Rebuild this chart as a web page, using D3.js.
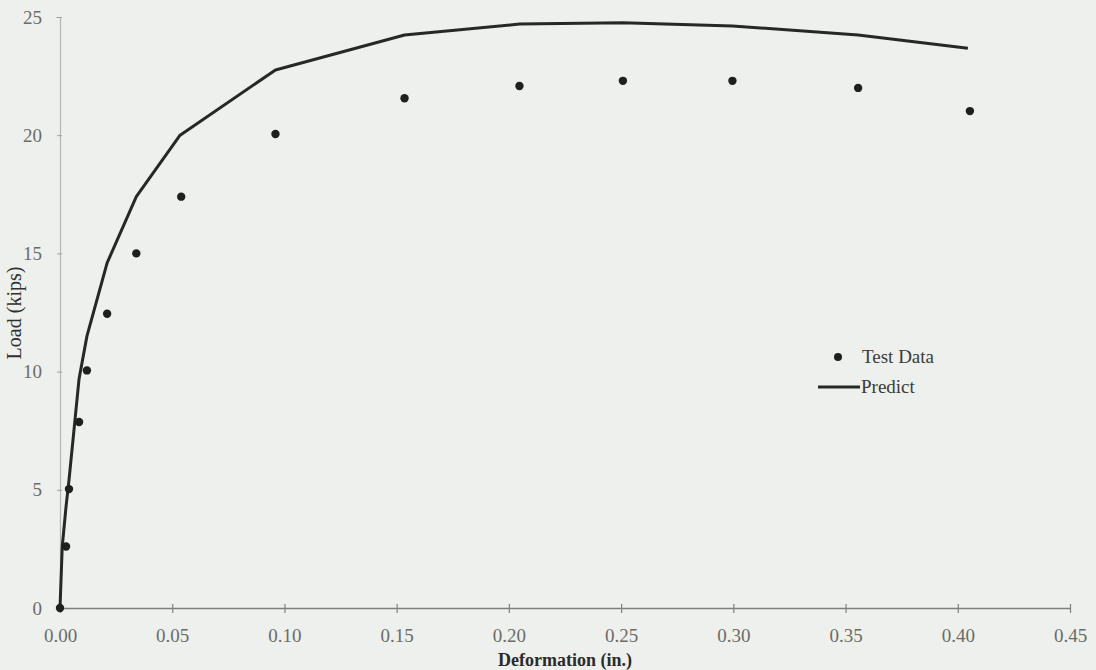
<!DOCTYPE html>
<html>
<head>
<meta charset="utf-8">
<script src="https://cdn.jsdelivr.net/npm/d3@7"></script>
<style>
  html, body { margin: 0; padding: 0; background: #eef0ed; }
  svg { display: block; }
</style>
</head>
<body>
<svg id="chart" width="1096" height="670"></svg>
<script>
// test data
const testDeformation = [0, 0.0027, 0.004, 0.0085, 0.012, 0.021, 0.034, 0.054, 0.096, 0.1535, 0.2047, 0.2508, 0.2996, 0.3556, 0.4054];
const testLoad = [0, 2.6, 5.03, 7.87, 10.05, 12.45, 15.0, 17.4, 20.05, 21.56, 22.08, 22.3, 22.3, 22.0, 21.02];

// predicted curve
const predictDeformation = [0, 0.001, 0.0027, 0.004, 0.0085, 0.012, 0.021, 0.034, 0.0535, 0.096, 0.1535, 0.2047, 0.2508, 0.2996, 0.3556, 0.4045];
const predictLoad = [0, 2.6, 4.3, 5.4, 9.7, 11.5, 14.6, 17.4, 20.0, 22.76, 24.24, 24.7, 24.76, 24.62, 24.24, 23.68];

const xTicks = [0, 0.05, 0.10, 0.15, 0.20, 0.25, 0.30, 0.35, 0.40, 0.45];
const yTicks = [0, 5, 10, 15, 20, 25];

const svg = d3.select('#chart');
const serif = '"Liberation Serif", "DejaVu Serif", serif';

const x = d3.scaleLinear().domain([0, 0.45]).range([60, 1070]);
const y = d3.scaleLinear().domain([0, 25]).range([608, 17]);

// y axis
const yAxis = svg.append('g')
  .attr('transform', `translate(${x(0)},0)`)
  .call(d3.axisLeft(y).tickValues(yTicks).tickSize(4).tickPadding(14));
yAxis.select('.domain').attr('stroke', '#b4b6b3').attr('stroke-width', 1.2);
yAxis.selectAll('.tick line').attr('stroke', '#a0a29f').attr('x2', 2).attr('x1', -3);
yAxis.selectAll('.tick text')
  .attr('font-family', serif).attr('font-size', 19).attr('fill', '#6a6c69');

// x axis
const xAxis = svg.append('g')
  .attr('transform', `translate(0,${y(0)})`)
  .call(d3.axisBottom(x).tickValues(xTicks).tickFormat(d3.format('.2f')).tickSize(0).tickPadding(21));
xAxis.select('.domain').attr('stroke', '#7e807d').attr('stroke-width', 1.6);
xAxis.selectAll('.tick line').attr('stroke', '#7e807d').attr('stroke-width', 1.2)
  .attr('y1', -4).attr('y2', 5);
xAxis.selectAll('.tick text')
  .attr('font-family', serif).attr('font-size', 19).attr('fill', '#6a6c69');

// axis titles
svg.append('text')
  .attr('x', 565).attr('y', 666)
  .attr('text-anchor', 'middle')
  .attr('font-family', serif).attr('font-size', 18).attr('font-weight', 'bold')
  .attr('fill', '#2a2b2a')
  .text('Deformation (in.)');

svg.append('text')
  .attr('transform', 'translate(21,313) rotate(-90)')
  .attr('text-anchor', 'middle')
  .attr('font-family', serif).attr('font-size', 20)
  .attr('fill', '#2f302f')
  .text('Load (kips)');

// predicted line
const line = d3.line()
  .x(i => x(predictDeformation[i]))
  .y(i => y(predictLoad[i]));

svg.append('path')
  .datum(d3.range(predictDeformation.length))
  .attr('d', line)
  .attr('fill', 'none')
  .attr('stroke', '#262826')
  .attr('stroke-width', 3)
  .attr('stroke-linejoin', 'round');

// test points
svg.append('g').selectAll('circle')
  .data(d3.range(testDeformation.length))
  .join('circle')
  .attr('cx', i => x(testDeformation[i]))
  .attr('cy', i => y(testLoad[i]))
  .attr('r', 4.2)
  .attr('fill', '#1e201e');

// legend
const legend = svg.append('g').attr('font-family', serif).attr('font-size', 19).attr('fill', '#3a3b3a');
legend.append('circle').attr('cx', 838).attr('cy', 357).attr('r', 4).attr('fill', '#1e201e');
legend.append('text').attr('x', 862).attr('y', 363).text('Test Data');
legend.append('line')
  .attr('x1', 818).attr('x2', 860).attr('y1', 387).attr('y2', 387)
  .attr('stroke', '#262826').attr('stroke-width', 3);
legend.append('text').attr('x', 861).attr('y', 393).text('Predict');
</script>
</body>
</html>
